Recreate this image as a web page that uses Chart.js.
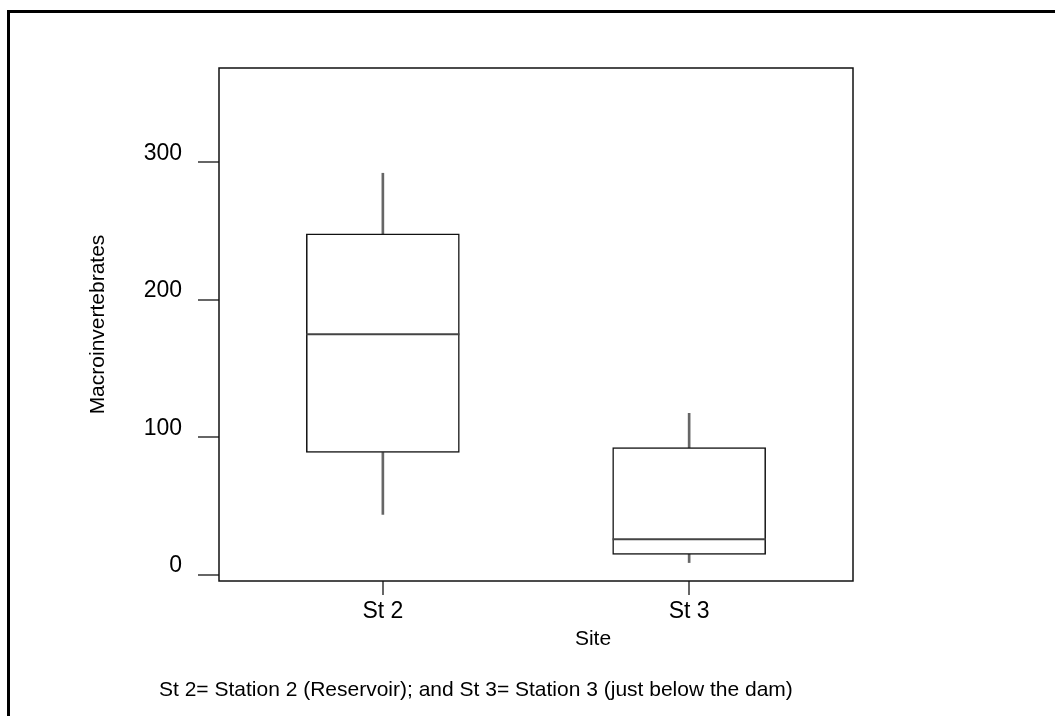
<!DOCTYPE html>
<html>
<head>
<meta charset="utf-8">
<script src="https://cdn.jsdelivr.net/npm/chart.js@4.4.1/dist/chart.umd.min.js"></script>
<style>
    body { margin: 0; background: #fff; font-family: "Liberation Sans", Arial, sans-serif; }
    #wrap { position: relative; width: 1055px; height: 716px; overflow: hidden; }
    #frame { position: absolute; left: 7px; top: 10px; width: 1100px; height: 800px;
             border-top: 3px solid #000; border-left: 3px solid #000; }
    #chart { position: absolute; left: 0; top: 0; }
    .txt { position: absolute; color: #000; line-height: 1; white-space: nowrap; }
    #xtitle { left: 593px; top: 637px; font-size: 21px; transform: translate(-50%, -50%); }
    #caption { left: 159px; top: 678px; font-size: 21px; }
</style>
</head>
<body>
<div id="wrap">
    <div id="frame"></div>
    <canvas id="chart" width="1055" height="716"></canvas>
    <div id="xtitle" class="txt">Site</div>
    <div id="caption" class="txt">St 2= Station 2 (Reservoir); and St 3= Station 3 (just below the dam)</div>
</div>
<script>
    // box plot values
    var sites = ['St 2', 'St 3']
    var mins = [44, 9]
    var q1s = [89, 15]
    var medians = [175, 26]
    var q3s = [248, 92.5]
    var maxs = [292, 117.5]
    var yTicks = [0, 100, 200, 300]

    var halfBox = 0.25

    var boxData = [], lowWhisker = [], highWhisker = [], medianLine = []
    sites.forEach(function(s, i) {
        var x = i + 1
        boxData.push({x: x, y: [q1s[i], q3s[i]]})
        lowWhisker.push({x: x, y: [mins[i], q1s[i]]})
        highWhisker.push({x: x, y: [q3s[i], maxs[i]]})
        medianLine.push({x: x - halfBox, y: medians[i]})
        medianLine.push({x: x + halfBox, y: medians[i]})
        medianLine.push({x: x + 0.5, y: null})
    })

    /* Plot frame */
    var frameBox = {
        id: 'frameBox',
        afterDraw: function(chart) {
            var a = chart.chartArea, ctx = chart.ctx
            ctx.save()
            ctx.strokeStyle = '#111'
            ctx.lineWidth = 1.5
            ctx.strokeRect(a.left, a.top, a.right - a.left, a.bottom - a.top)
            ctx.restore()
        }
    }

    var config = {
        type: 'bar',
        data: {
            datasets: [{
                data: lowWhisker,
                backgroundColor: '#666',
                borderWidth: 0,
                barThickness: 2,
                order: 3
            }, {
                data: highWhisker,
                backgroundColor: '#666',
                borderWidth: 0,
                barThickness: 2,
                order: 3
            }, {
                data: boxData,
                backgroundColor: '#fff',
                borderColor: '#111',
                borderWidth: 1.5,
                borderSkipped: false,
                barThickness: 153,
                order: 2
            }, {
                type: 'line',
                data: medianLine,
                borderColor: '#444',
                borderWidth: 2,
                pointRadius: 0,
                spanGaps: false,
                order: 1
            }]
        },
        options: {
            responsive: false,
            animation: false,
            devicePixelRatio: 1,
            layout: { padding: { left: 82, top: 68, right: 202, bottom: 64 } },
            plugins: { legend: { display: false }, tooltip: { enabled: false } },
            datasets: { bar: { grouped: false } },
            scales: {
                x: {
                    type: 'linear',
                    min: 0.465,
                    max: 2.535,
                    offset: false,
                    afterBuildTicks: function(axis) {
                        axis.ticks = sites.map(function(s, i) { return {value: i + 1} })
                    },
                    afterFit: function(axis) { axis.height = 71 },
                    border: { display: false },
                    grid: { offset: false, drawOnChartArea: false, tickLength: 14, color: '#666', lineWidth: 2 },
                    ticks: {
                        padding: 3,
                        color: '#000',
                        font: { family: 'Liberation Sans', size: 23 },
                        callback: function(v) { return sites[v - 1] }
                    }
                },
                y: {
                    min: -4.4,
                    max: 368.5,
                    afterBuildTicks: function(axis) {
                        axis.ticks = yTicks.map(function(v) { return {value: v} })
                    },
                    afterFit: function(axis) { axis.width = 137 },
                    border: { display: false },
                    grid: { drawOnChartArea: false, tickLength: 21, color: '#666', lineWidth: 2 },
                    ticks: {
                        padding: 16,
                        labelOffset: -9,
                        color: '#000',
                        font: { family: 'Liberation Sans', size: 23 }
                    },
                    title: {
                        display: true,
                        text: 'Macroinvertebrates',
                        color: '#000',
                        font: { family: 'Liberation Sans', size: 21 }
                    }
                }
            }
        },
        plugins: [frameBox]
    }

    var ctx = document.getElementById('chart').getContext('2d')
    window.boxChart = new Chart(ctx, config)
</script>
</body>
</html>
